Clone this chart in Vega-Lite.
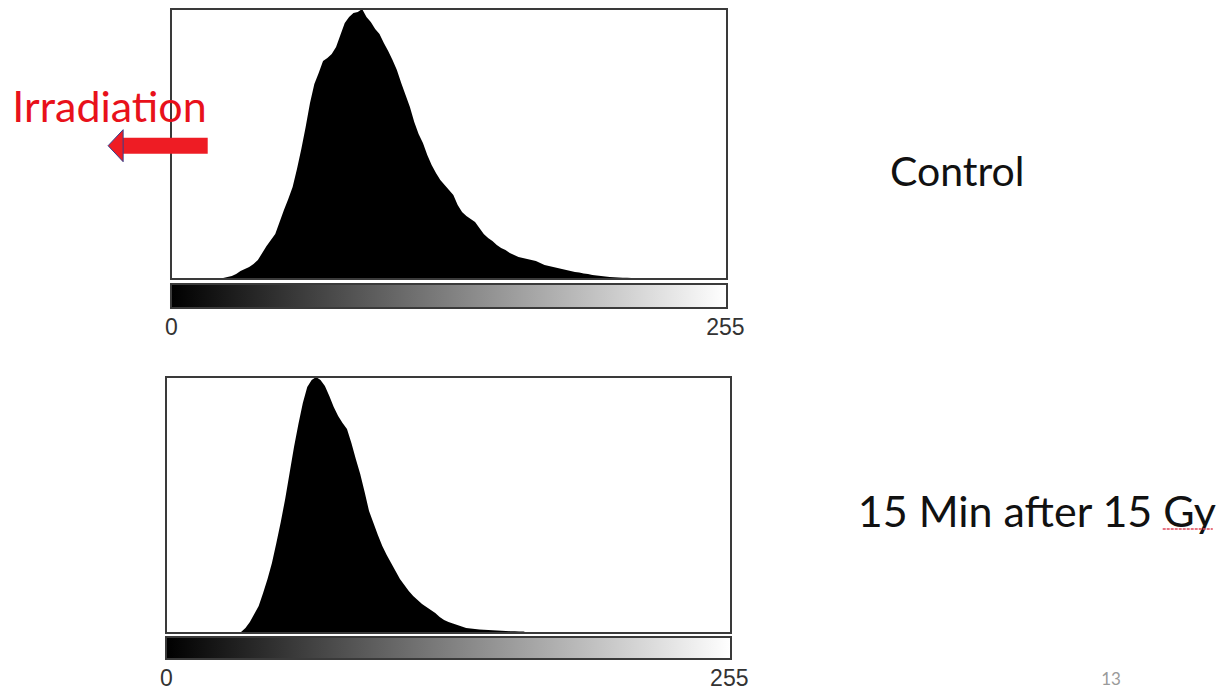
{
  "$schema": "https://vega.github.io/schema/vega-lite/v6.json",
  "padding": {"left": 12, "top": 8, "right": 0, "bottom": 0},
  "background": "white",
  "bounds": "flush",
  "spacing": 69,
  "config": {"view": {"stroke": null}, "font": "Lato"},
  "datasets": {
    "control": [
      {"bin": 0, "count": 0}, {"bin": 22, "count": 0.5}, {"bin": 24, "count": 1}, {"bin": 26, "count": 2}, {"bin": 28, "count": 3},
      {"bin": 30, "count": 5}, {"bin": 32, "count": 8}, {"bin": 34, "count": 10}, {"bin": 36, "count": 12}, {"bin": 38, "count": 15},
      {"bin": 40, "count": 19}, {"bin": 42, "count": 26}, {"bin": 44, "count": 33}, {"bin": 46, "count": 39}, {"bin": 48, "count": 45},
      {"bin": 50, "count": 57}, {"bin": 52, "count": 69}, {"bin": 54, "count": 80}, {"bin": 56, "count": 92}, {"bin": 58, "count": 110},
      {"bin": 60, "count": 130}, {"bin": 62, "count": 152}, {"bin": 64, "count": 176}, {"bin": 66, "count": 195}, {"bin": 68, "count": 206},
      {"bin": 70, "count": 218}, {"bin": 72, "count": 221}, {"bin": 74, "count": 225}, {"bin": 76, "count": 232}, {"bin": 78, "count": 244},
      {"bin": 80, "count": 256}, {"bin": 82, "count": 262}, {"bin": 84, "count": 266}, {"bin": 86, "count": 267}, {"bin": 88, "count": 270},
      {"bin": 90, "count": 262}, {"bin": 92, "count": 257}, {"bin": 94, "count": 250}, {"bin": 96, "count": 245}, {"bin": 98, "count": 236},
      {"bin": 100, "count": 228}, {"bin": 102, "count": 219}, {"bin": 104, "count": 209}, {"bin": 106, "count": 196}, {"bin": 108, "count": 184},
      {"bin": 110, "count": 172}, {"bin": 112, "count": 157}, {"bin": 114, "count": 145}, {"bin": 116, "count": 136}, {"bin": 118, "count": 124},
      {"bin": 120, "count": 114}, {"bin": 122, "count": 106}, {"bin": 124, "count": 99}, {"bin": 126, "count": 94}, {"bin": 128, "count": 89},
      {"bin": 130, "count": 84}, {"bin": 132, "count": 74}, {"bin": 134, "count": 67}, {"bin": 136, "count": 63}, {"bin": 138, "count": 60},
      {"bin": 140, "count": 57}, {"bin": 142, "count": 51}, {"bin": 144, "count": 45}, {"bin": 146, "count": 41}, {"bin": 148, "count": 38},
      {"bin": 150, "count": 34}, {"bin": 152, "count": 31}, {"bin": 154, "count": 29}, {"bin": 156, "count": 26}, {"bin": 158, "count": 24},
      {"bin": 160, "count": 22}, {"bin": 162, "count": 21}, {"bin": 164, "count": 20}, {"bin": 166, "count": 19}, {"bin": 168, "count": 18},
      {"bin": 170, "count": 16}, {"bin": 172, "count": 14}, {"bin": 174, "count": 13}, {"bin": 176, "count": 12}, {"bin": 178, "count": 11},
      {"bin": 180, "count": 10}, {"bin": 182, "count": 9}, {"bin": 184, "count": 8}, {"bin": 186, "count": 7}, {"bin": 188, "count": 6.5},
      {"bin": 190, "count": 5.5}, {"bin": 192, "count": 5}, {"bin": 194, "count": 4}, {"bin": 196, "count": 3.5}, {"bin": 198, "count": 3},
      {"bin": 200, "count": 2.5}, {"bin": 202, "count": 2}, {"bin": 204, "count": 1.8}, {"bin": 206, "count": 1.5}, {"bin": 208, "count": 1.3},
      {"bin": 210, "count": 1.2}, {"bin": 212, "count": 1.1}, {"bin": 214, "count": 1}, {"bin": 216, "count": 0}
    ],
    "irradiated": [
      {"bin": 0, "count": 0}, {"bin": 32, "count": 0}, {"bin": 34, "count": 1}, {"bin": 36, "count": 5}, {"bin": 38, "count": 11},
      {"bin": 40, "count": 19}, {"bin": 42, "count": 27}, {"bin": 44, "count": 40}, {"bin": 46, "count": 54}, {"bin": 48, "count": 70},
      {"bin": 50, "count": 90}, {"bin": 52, "count": 111}, {"bin": 54, "count": 134}, {"bin": 56, "count": 160}, {"bin": 58, "count": 186},
      {"bin": 60, "count": 209}, {"bin": 62, "count": 230}, {"bin": 64, "count": 246}, {"bin": 66, "count": 253}, {"bin": 68, "count": 256},
      {"bin": 70, "count": 253}, {"bin": 72, "count": 247}, {"bin": 74, "count": 237}, {"bin": 76, "count": 226}, {"bin": 78, "count": 217},
      {"bin": 80, "count": 210}, {"bin": 82, "count": 204}, {"bin": 84, "count": 190}, {"bin": 86, "count": 174}, {"bin": 88, "count": 159},
      {"bin": 90, "count": 141}, {"bin": 92, "count": 122}, {"bin": 94, "count": 110}, {"bin": 96, "count": 98}, {"bin": 98, "count": 87},
      {"bin": 100, "count": 78}, {"bin": 102, "count": 70}, {"bin": 104, "count": 62}, {"bin": 106, "count": 54}, {"bin": 108, "count": 48},
      {"bin": 110, "count": 42}, {"bin": 112, "count": 37}, {"bin": 114, "count": 33}, {"bin": 116, "count": 29}, {"bin": 118, "count": 26},
      {"bin": 120, "count": 23}, {"bin": 122, "count": 20}, {"bin": 124, "count": 16}, {"bin": 126, "count": 13}, {"bin": 128, "count": 11},
      {"bin": 130, "count": 9.5}, {"bin": 132, "count": 8}, {"bin": 134, "count": 6.5}, {"bin": 136, "count": 5}, {"bin": 138, "count": 4.5},
      {"bin": 140, "count": 4}, {"bin": 142, "count": 3.5}, {"bin": 144, "count": 3.2}, {"bin": 146, "count": 3}, {"bin": 148, "count": 2.8},
      {"bin": 150, "count": 2.5}, {"bin": 152, "count": 2.2}, {"bin": 154, "count": 2}, {"bin": 156, "count": 1.8}, {"bin": 158, "count": 1.7},
      {"bin": 160, "count": 1.6}, {"bin": 162, "count": 1.5}, {"bin": 164, "count": 0}
    ]
  },
  "vconcat": [
    {
      "width": 561, "height": 299,
      "layer": [
        {
          "data": {"name": "control"},
          "mark": {"type": "area", "interpolate": "linear", "color": "#000000"},
          "encoding": {
            "x": {"field": "bin", "type": "quantitative", "scale": {"domain": [-2.302, 256], "nice": false, "zero": false},
                  "axis": {"values": [0, 255], "labelFlush": false, "ticks": false, "domain": false, "grid": false, "title": null, "labelFont": "Liberation Sans", "labelFontSize": 23, "labelColor": "#333333", "labelPadding": 8}},
            "y": {"field": "count", "type": "quantitative", "scale": {"domain": [-29, 270], "nice": false, "zero": false}, "axis": null}
          }
        },
        {
          "data": {"values": [{"lo": 0, "hi": 256, "b": 0, "t": 270}]},
          "mark": {"type": "rect", "fill": null, "fillOpacity": 0, "stroke": "#3a3a3a", "strokeWidth": 2},
          "encoding": {
            "x": {"field": "lo", "type": "quantitative", "scale": {"domain": [-2.302, 256], "nice": false, "zero": false}},
            "x2": {"field": "hi"},
            "y": {"field": "b", "type": "quantitative", "scale": {"domain": [-29, 270], "nice": false, "zero": false}},
            "y2": {"field": "t"}
          }
        },
        {
          "data": {"values": [{"lo": 0, "hi": 256, "b": -29, "t": -5}]},
          "mark": {"type": "rect", "fill": {"gradient": "linear", "x1": 0, "x2": 1, "y1": 0, "y2": 0, "stops": [{"offset": 0, "color": "#000000"}, {"offset": 1, "color": "#ffffff"}]}, "stroke": "#3a3a3a", "strokeWidth": 2},
          "encoding": {
            "x": {"field": "lo", "type": "quantitative", "scale": {"domain": [-2.302, 256], "nice": false, "zero": false}},
            "x2": {"field": "hi"},
            "y": {"field": "b", "type": "quantitative", "scale": {"domain": [-29, 270], "nice": false, "zero": false}},
            "y2": {"field": "t"}
          }
        },
        {
          "data": {"values": [{"t": "Irradiation"}]},
          "mark": {"type": "text", "clip": false, "color": "#e8111b", "font": "Lato", "fontSize": 43, "align": "center", "baseline": "alphabetic"},
          "encoding": {
            "x": {"datum": -28.3, "type": "quantitative", "scale": {"domain": [-2.302, 256], "nice": false, "zero": false}},
            "y": {"datum": 157, "type": "quantitative", "scale": {"domain": [-29, 270], "nice": false, "zero": false}},
            "text": {"field": "t"}
          }
        },
        {
          "data": {"values": [{"a": 0}]},
          "mark": {"type": "rule", "clip": false, "color": "#ee1c24", "strokeWidth": 16, "strokeCap": "butt"},
          "encoding": {
            "x": {"datum": -22.2, "type": "quantitative", "scale": {"domain": [-2.302, 256], "nice": false, "zero": false}},
            "x2": {"datum": 16.9},
            "y": {"datum": 133.3, "type": "quantitative", "scale": {"domain": [-29, 270], "nice": false, "zero": false}}
          }
        },
        {
          "data": {"values": [{"a": 0}]},
          "mark": {"type": "point", "clip": false, "filled": true, "shape": "M-0.47,0L0.47,-1L0.47,1Z", "size": 1024, "fill": "#ee1c24", "opacity": 1, "stroke": "#34408c", "strokeWidth": 1},
          "encoding": {
            "x": {"datum": -25.5, "type": "quantitative", "scale": {"domain": [-2.302, 256], "nice": false, "zero": false}},
            "y": {"datum": 133.3, "type": "quantitative", "scale": {"domain": [-29, 270], "nice": false, "zero": false}}
          }
        },
        {
          "data": {"values": [{"t": "Control"}]},
          "mark": {"type": "text", "clip": false, "color": "#111111", "font": "Lato", "fontSize": 41, "align": "center", "baseline": "alphabetic"},
          "encoding": {
            "x": {"datum": 362, "type": "quantitative", "scale": {"domain": [-2.302, 256], "nice": false, "zero": false}},
            "y": {"datum": 92.6, "type": "quantitative", "scale": {"domain": [-29, 270], "nice": false, "zero": false}},
            "text": {"field": "t"}
          }
        }
      ]
    },
    {
      "width": 565, "height": 282,
      "layer": [
        {
          "data": {"name": "irradiated"},
          "mark": {"type": "area", "interpolate": "linear", "color": "#000000"},
          "encoding": {
            "x": {"field": "bin", "type": "quantitative", "scale": {"domain": [0, 256], "nice": false, "zero": false},
                  "axis": {"values": [0, 255], "labelFlush": false, "ticks": false, "domain": false, "grid": false, "title": null, "labelFont": "Liberation Sans", "labelFontSize": 23, "labelColor": "#333333", "labelPadding": 8}},
            "y": {"field": "count", "type": "quantitative", "scale": {"domain": [-26, 256], "nice": false, "zero": false}, "axis": null}
          }
        },
        {
          "data": {"values": [{"lo": 0, "hi": 256, "b": 0, "t": 256}]},
          "mark": {"type": "rect", "fill": null, "fillOpacity": 0, "stroke": "#3a3a3a", "strokeWidth": 2},
          "encoding": {
            "x": {"field": "lo", "type": "quantitative", "scale": {"domain": [0, 256], "nice": false, "zero": false}},
            "x2": {"field": "hi"},
            "y": {"field": "b", "type": "quantitative", "scale": {"domain": [-26, 256], "nice": false, "zero": false}},
            "y2": {"field": "t"}
          }
        },
        {
          "data": {"values": [{"lo": 0, "hi": 256, "b": -26, "t": -4}]},
          "mark": {"type": "rect", "fill": {"gradient": "linear", "x1": 0, "x2": 1, "y1": 0, "y2": 0, "stops": [{"offset": 0, "color": "#000000"}, {"offset": 1, "color": "#ffffff"}]}, "stroke": "#3a3a3a", "strokeWidth": 2},
          "encoding": {
            "x": {"field": "lo", "type": "quantitative", "scale": {"domain": [0, 256], "nice": false, "zero": false}},
            "x2": {"field": "hi"},
            "y": {"field": "b", "type": "quantitative", "scale": {"domain": [-26, 256], "nice": false, "zero": false}},
            "y2": {"field": "t"}
          }
        },
        {
          "data": {"values": [{"t": "15 Min after 15 Gy"}]},
          "mark": {"type": "text", "clip": false, "color": "#111111", "font": "Lato", "fontSize": 43, "align": "center", "baseline": "alphabetic"},
          "encoding": {
            "x": {"datum": 394.6, "type": "quantitative", "scale": {"domain": [0, 256], "nice": false, "zero": false}},
            "y": {"datum": 106, "type": "quantitative", "scale": {"domain": [-26, 256], "nice": false, "zero": false}},
            "text": {"field": "t"}
          }
        },
        {
          "data": {"values": [{"a": 0}]},
          "mark": {"type": "rule", "clip": false, "color": "#e0475a", "strokeWidth": 1.5, "strokeDash": [3, 1]},
          "encoding": {
            "x": {"datum": 451.6, "type": "quantitative", "scale": {"domain": [0, 256], "nice": false, "zero": false}},
            "x2": {"datum": 474.3},
            "y": {"datum": 104, "type": "quantitative", "scale": {"domain": [-26, 256], "nice": false, "zero": false}}
          }
        },
        {
          "data": {"values": [{"t": "13"}]},
          "mark": {"type": "text", "clip": false, "color": "#9a9a9a", "font": "Lato", "fontSize": 17, "align": "center", "baseline": "middle"},
          "encoding": {
            "x": {"datum": 428.2, "type": "quantitative", "scale": {"domain": [0, 256], "nice": false, "zero": false}},
            "y": {"datum": -47, "type": "quantitative", "scale": {"domain": [-26, 256], "nice": false, "zero": false}},
            "text": {"field": "t"}
          }
        }
      ]
    }
  ]
}
